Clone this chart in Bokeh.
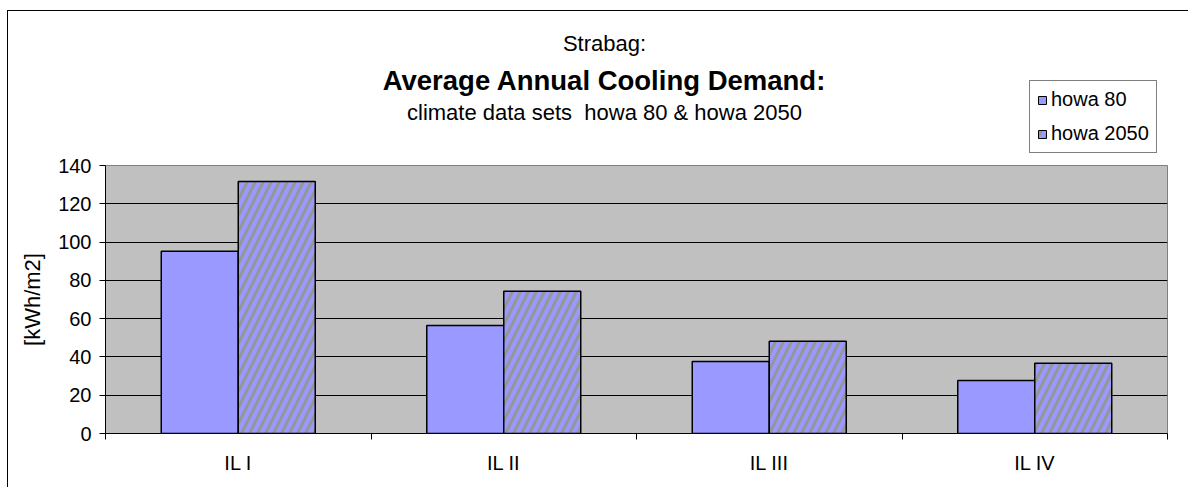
import numpy as np
from bokeh.plotting import figure
from bokeh.layouts import column
from bokeh.models import (Range1d, FixedTicker, Label, Legend, LegendItem,
                          ColumnDataSource)
from bokeh.embed import file_html
from bokeh.resources import INLINE

categories = ["IL I", "IL II", "IL III", "IL IV"]
howa80 = [95.2, 56.4, 37.6, 27.7]
howa2050 = [131.6, 74.3, 48.2, 36.7]
series_names = ["howa 80", "howa 2050"]
y_ticks = [0, 20, 40, 60, 80, 100, 120, 140]
title_top = "Strabag:"
title_main = "Average Annual Cooling Demand:"
title_sub = "climate data sets\u00a0 howa 80 & howa 2050"

FONT = "Liberation Sans"
FS = "20px"
FS_T = "22px"
W = 1180
H_HEAD, H_MAIN = 143, 333
OX, OY = 8, 11                 # page offset of the layout content
FRAME_LEFT = 97                # main frame left inside the canvas
BAR_W = 0.29
BAR_FILL = "#9999FF"
HATCH = dict(hatch_pattern="/", hatch_color="#969696", hatch_weight=3, hatch_scale=16)

idx = np.arange(len(categories))
centers = idx + 0.5
src80 = ColumnDataSource(dict(x=centers - BAR_W / 2, top=howa80))
src50 = ColumnDataSource(dict(x=centers + BAR_W / 2, top=howa2050))

# ---------------- header (titles + legend) ----------------
# header ranges lie beyond the data, so the legend renderers (same data)
# stay outside its view
head = figure(width=W, height=H_HEAD, output_backend="svg", toolbar_location=None,
              x_range=Range1d(len(categories), len(categories) + 1),
              y_range=Range1d(1000, 1001),
              min_border_left=FRAME_LEFT, min_border_right=21,
              min_border_top=0, min_border_bottom=0)
head.axis.visible = False
head.grid.visible = False
head.outline_line_color = None
head.background_fill_color = "white"
head.border_fill_color = "white"

HX0 = OX + FRAME_LEFT          # page x of header frame left

def add_label(text, px, py, size, style="normal"):
    head.add_layout(Label(x=px - HX0, y=(H_HEAD + OY) - py, x_units="screen", y_units="screen",
                          text=text, text_font=FONT, text_font_size=size,
                          text_font_style=style, text_align="center",
                          text_baseline="middle", text_color="black"))

add_label(title_top, 604, 43, FS_T)
add_label(title_main, 604, 80, "27.5px", "bold")
add_label(title_sub, 604, 112, FS_T)

d1 = head.vbar(x="x", top="top", width=BAR_W, source=src80,
               fill_color=BAR_FILL, line_color="black", line_width=1)
d2 = head.vbar(x="x", top="top", width=BAR_W, source=src50,
               fill_color=BAR_FILL, line_color="black", line_width=1, **HATCH)
legend = Legend(items=[LegendItem(label=series_names[0], renderers=[d1]),
                       LegendItem(label=series_names[1], renderers=[d2])],
                location=(1029 - HX0, (H_HEAD + OY) - 153), orientation="vertical",
                label_text_font=FONT, label_text_font_size=FS,
                label_text_color="black",
                glyph_width=10, glyph_height=10, label_standoff=4,
                label_height=22, spacing=11, padding=7, margin=0,
                border_line_color="black", border_line_width=1,
                background_fill_color="white", background_fill_alpha=1)
head.add_layout(legend, "center")

# ---------------- main chart ----------------
p = figure(width=W, height=H_MAIN, output_backend="svg", toolbar_location=None,
           x_range=Range1d(0, len(categories)), y_range=Range1d(0, 140),
           min_border_left=FRAME_LEFT, min_border_right=21, min_border_top=11,
           min_border_bottom=54)

p.background_fill_color = "#C0C0C0"
p.border_fill_color = "white"
p.outline_line_color = "#808080"
p.outline_line_width = 1

r1 = p.vbar(x="x", top="top", width=BAR_W, bottom=0, source=src80,
            fill_color=BAR_FILL, line_color="black", line_width=1.5)
r2 = p.vbar(x="x", top="top", width=BAR_W, bottom=0, source=src50,
            fill_color=BAR_FILL, line_color="black", line_width=1.5, **HATCH)

p.xgrid.visible = False
p.ygrid.grid_line_color = "black"
p.ygrid.grid_line_width = 1
p.ygrid.ticker = FixedTicker(ticks=y_ticks)

p.yaxis.ticker = FixedTicker(ticks=y_ticks)
p.yaxis.axis_label = "[kWh/m2]"
p.yaxis.axis_label_text_font = FONT
p.yaxis.axis_label_text_font_size = FS_T
p.yaxis.axis_label_text_font_style = "normal"
p.yaxis.axis_label_text_color = "black"
p.yaxis.axis_label_standoff = 10
p.yaxis.major_label_text_font = FONT
p.yaxis.major_label_text_font_size = FS
p.yaxis.major_label_text_color = "black"
p.yaxis.major_tick_out = 6
p.yaxis.major_tick_in = 0
p.yaxis.minor_tick_line_color = None
p.yaxis.axis_line_color = "black"
p.yaxis.major_tick_line_color = "black"
p.yaxis.major_label_standoff = 8

p.xaxis.ticker = FixedTicker(ticks=list(centers),
                             minor_ticks=list(range(len(categories) + 1)))
p.xaxis.major_label_overrides = {float(c): cat for c, cat in zip(centers, categories)}
p.xaxis.major_label_text_font = FONT
p.xaxis.major_label_text_font_size = FS
p.xaxis.major_label_text_color = "black"
p.xaxis.major_tick_out = 0
p.xaxis.major_tick_in = 0
p.xaxis.minor_tick_out = 6
p.xaxis.minor_tick_in = 0
p.xaxis.minor_tick_line_color = "black"
p.xaxis.axis_line_color = "black"
p.xaxis.major_label_standoff = 12

layout = column(head, p, spacing=0,
                styles={"border-left": "1px solid black",
                        "border-top": "1px solid black",
                        "margin-left": "7px", "margin-top": "10px"})

open("out.html", "w").write(file_html(layout, INLINE))
